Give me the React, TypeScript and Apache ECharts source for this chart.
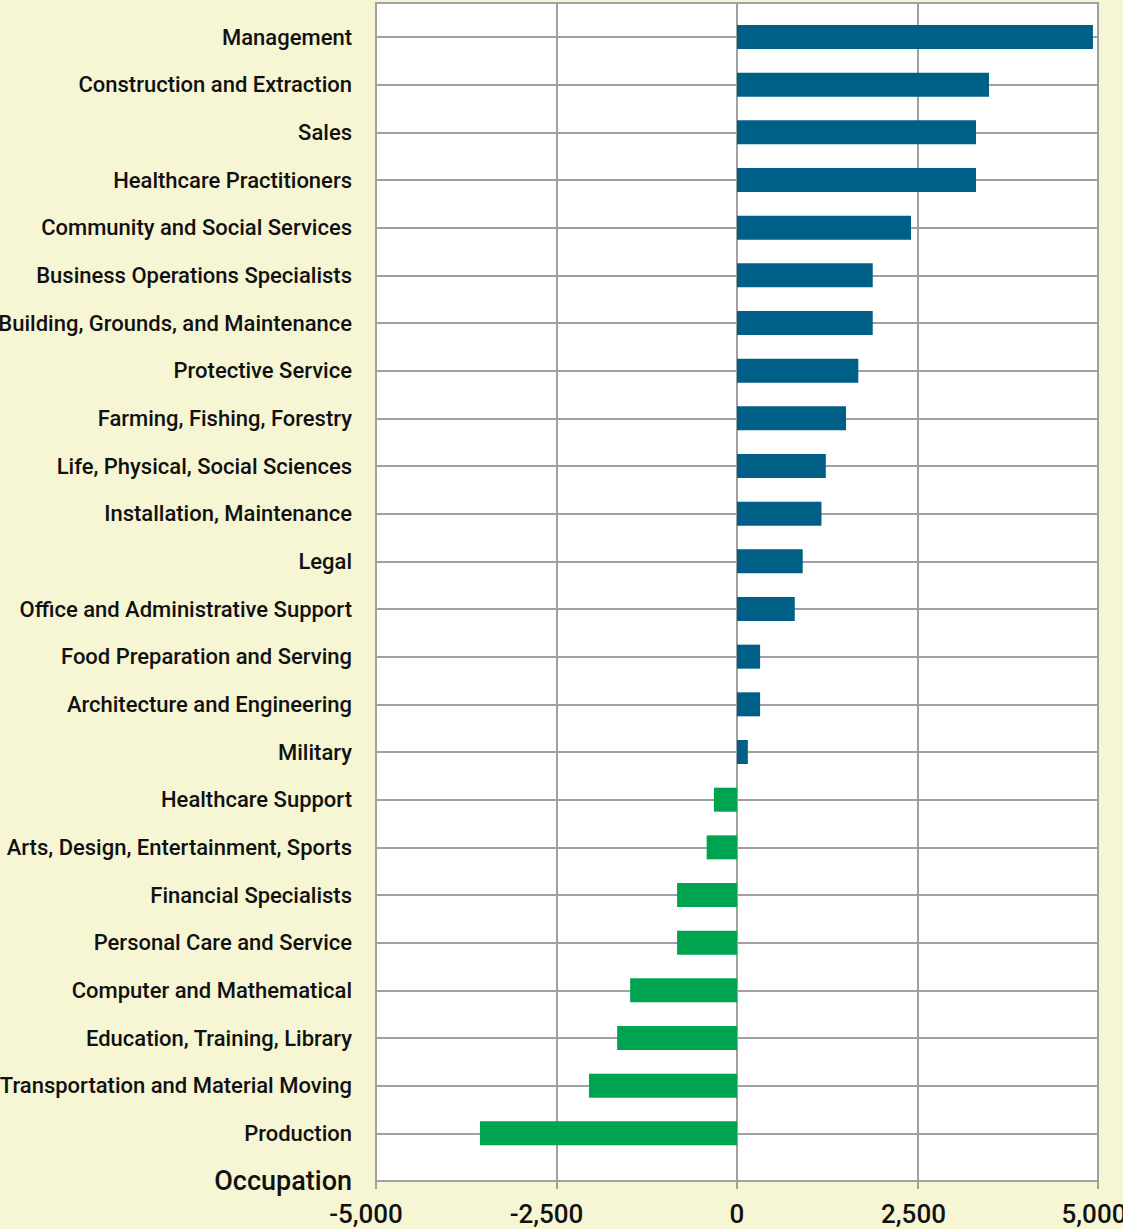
import React, { useEffect, useRef } from "react";
import * as echarts from "echarts";

const categories = [
  "Management",
  "Construction and Extraction",
  "Sales",
  "Healthcare Practitioners",
  "Community and Social Services",
  "Business Operations Specialists",
  "Building, Grounds, and Maintenance",
  "Protective Service",
  "Farming, Fishing, Forestry",
  "Life, Physical, Social Sciences",
  "Installation, Maintenance",
  "Legal",
  "Office and Administrative Support",
  "Food Preparation and Serving",
  "Architecture and Engineering",
  "Military",
  "Healthcare Support",
  "Arts, Design, Entertainment, Sports",
  "Financial Specialists",
  "Personal Care and Service",
  "Computer and Mathematical",
  "Education, Training, Library",
  "Transportation and Material Moving",
  "Production",
];
const axisTitle = "Occupation";
const values = [
  4930, 3490, 3310, 3310, 2410, 1880, 1880, 1680, 1510, 1230, 1170, 910, 800,
  320, 320, 150, -320, -420, -830, -830, -1480, -1660, -2050, -3560,
];
const xTicks = [-5000, -2500, 0, 2500, 5000];

const BLUE = "#005F86";
const GREEN = "#00A34F";
const GRID = "#A0A0A0";
const FONT = "Roboto";

export default function App() {
  const ref = useRef<HTMLDivElement>(null);
  useEffect(() => {
    if (!ref.current) return;
    const chart = echarts.init(ref.current, null, { renderer: "svg" });
    const xMin = xTicks[0];
    const xMax = xTicks[xTicks.length - 1];
    const xInt = xTicks[1] - xTicks[0];
    const xLabelStyle = {
      color: "#111",
      fontFamily: FONT,
      fontSize: 26,
      fontWeight: 500,
    };
    chart.setOption({
      animation: false,
      backgroundColor: "#F6F6D4",
      grid: [
        {
          left: 376,
          right: 25,
          top: 3,
          bottom: 48,
          show: true,
          backgroundColor: "#FFFFFF",
          borderColor: GRID,
          borderWidth: 2,
          containLabel: false,
          outerBoundsMode: "none",
        },
        {
          left: 376,
          right: 25,
          top: 37,
          bottom: 48,
          containLabel: false,
          outerBoundsMode: "none",
        },
      ],
      xAxis: [
        {
          gridIndex: 0,
          type: "value",
          min: xMin,
          max: xMax,
          interval: xInt,
          axisLine: { show: true, lineStyle: { color: GRID, width: 2 } },
          axisTick: { show: true, length: 8, lineStyle: { color: GRID, width: 2 } },
          splitLine: { show: true, lineStyle: { color: GRID, width: 2 } },
          axisLabel: {
            ...xLabelStyle,
            margin: 20,
            hideOverlap: false,
            formatter: (v: number) => {
              const s = v.toLocaleString("en-US");
              if (v < 0) return `{neg|${s}}`;
              if (v > 0) return `{pos|${s}}`;
              return `{zero|${s}}`;
            },
            rich: {
              neg: { ...xLabelStyle, padding: [0, 20, 0, 0] },
              pos: { ...xLabelStyle, padding: [0, 8, 0, 0] },
              zero: { ...xLabelStyle },
            },
          },
        },
        {
          gridIndex: 1,
          type: "value",
          min: xMin,
          max: xMax,
          show: false,
        },
      ],
      yAxis: [
        {
          gridIndex: 0,
          type: "value",
          min: 0,
          max: 1,
          show: false,
        },
        {
          gridIndex: 1,
          type: "category",
          inverse: true,
          boundaryGap: false,
          data: [...categories, axisTitle],
          axisLine: { show: false },
          axisTick: { show: true, length: 11, lineStyle: { color: GRID, width: 2 } },
          splitLine: { show: true, lineStyle: { color: GRID, width: 2 } },
          axisLabel: {
            color: "#111",
            fontFamily: FONT,
            fontSize: 22,
            fontWeight: 500,
            margin: 24,
            interval: 0,
            formatter: (v: string) => (v === axisTitle ? `{t|${v}}` : v),
            rich: {
              t: { fontFamily: FONT, fontSize: 27, fontWeight: 500, color: "#111" },
            },
          },
        },
      ],
      series: [
        {
          type: "bar",
          xAxisIndex: 1,
          yAxisIndex: 1,
          barWidth: 24,
          data: values,
          itemStyle: {
            color: (p: any) => (p.value >= 0 ? BLUE : GREEN),
          },
        },
      ],
    });
    return () => chart.dispose();
  }, []);
  return (
    <div
      ref={ref}
      style={{ position: "absolute", left: 0, top: 0, width: 1123, height: 1229 }}
    />
  );
}
